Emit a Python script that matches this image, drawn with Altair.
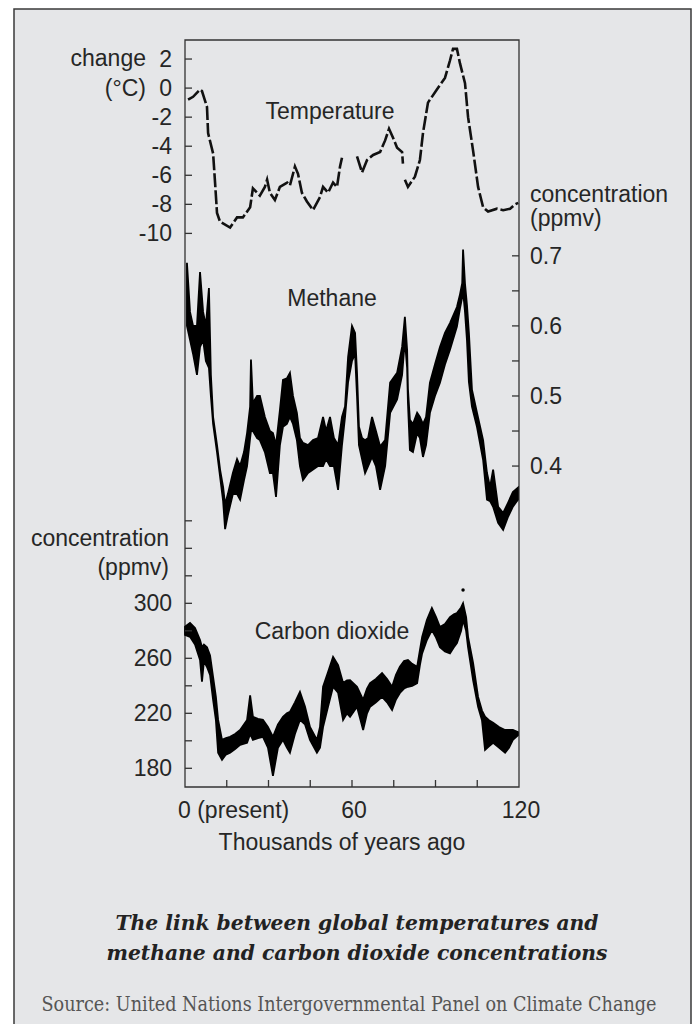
import altair as alt
import pandas as pd

# ---------------- data ----------------
# Temperature change (deg C), three dashed segments separated by gaps
temp_kyr_a = [1.1, 2.9, 5.4, 6.1, 7.9, 8.3, 10.1, 10.8, 11.5, 12.6, 16.2, 18.7, 20.8, 23.4, 24.4,
              26.9, 28.7, 29.5, 30.5, 32.3, 34.1, 36.7, 37.7, 39.5, 40.6, 42.0, 43.8, 46.0, 48.5,
              49.6, 51.4, 53.2, 54.6, 55.7, 56.4]
temp_val_a = [-0.8, -0.6, -0.1, -0.2, -1.3, -3.1, -4.5, -6.5, -8.6, -9.2, -9.6, -8.9, -8.9, -8.2, -6.9,
              -7.4, -6.8, -6.3, -7.2, -7.7, -6.8, -6.5, -6.7, -5.4, -5.9, -7.2, -7.8, -8.4, -7.5,
              -6.8, -7.2, -6.5, -6.8, -5.4, -4.8]
temp_kyr_b = [61.8, 63.6, 65.4, 67.6, 70.1, 71.9, 73.3, 74.7, 76.2, 78.0, 78.3]
temp_val_b = [-4.7, -5.8, -4.95, -4.6, -4.4, -3.6, -2.8, -3.4, -4.1, -4.4, -5.2]
temp_kyr_c = [79.0, 80.1, 82.6, 84.4, 85.5, 87.3, 90.5, 93.4, 95.2, 96.3, 97.7, 98.8, 100.6, 101.7,
              103.5, 105.3, 107.1, 108.9, 112.1, 114.3, 116.8, 118.6, 119.7]
temp_val_c = [-6.3, -6.8, -6.1, -4.95, -3.1, -1.0, -0.1, 0.7, 1.9, 2.7, 2.7, 1.7, 0.34, -2.0,
              -4.3, -6.8, -8.2, -8.5, -8.3, -8.4, -8.3, -8.0, -7.9]

# Methane concentration (ppmv): lower / upper edge of the black band
ch4_kyr = [0.7, 1.8, 2.9, 4.3, 5.4, 6.5, 7.5, 8.6, 9.3, 10.1, 11.5, 12.6, 13.7, 14.4, 15.4, 17.2,
           18.7, 19.8, 21.2, 22.3, 23.4, 23.7, 24.4, 25.9, 26.9, 28.7, 30.5, 31.6, 32.7, 34.1,
           35.2, 36.6, 37.7, 38.8, 40.2, 41.3, 42.4, 44.2, 46.0, 47.8, 49.6, 50.7, 52.1, 53.5,
           55.0, 56.4, 57.5, 58.6, 60.0, 61.1, 61.8, 62.5, 63.6, 64.7, 65.8, 67.2, 68.6, 70.1,
           71.9, 73.7, 76.2, 78.0, 79.0, 79.8, 80.1, 80.8, 81.9, 83.4, 84.4, 85.5, 86.6, 88.0,
           89.8, 91.6, 93.4, 95.2, 97.7, 98.8, 99.6, 99.9, 100.6, 101.3, 102.0, 103.1, 104.9,
           107.1, 108.5, 109.6, 110.7, 112.5, 114.3, 116.1, 117.8, 119.6]
ch4_lo = [0.60, 0.58, 0.56, 0.53, 0.57, 0.58, 0.55, 0.54, 0.50, 0.46, 0.42, 0.385, 0.35, 0.31, 0.33, 0.36,
          0.36, 0.352, 0.38, 0.40, 0.44, 0.45, 0.45, 0.44, 0.437, 0.42, 0.39, 0.39, 0.356, 0.43,
          0.456, 0.46, 0.47, 0.46, 0.437, 0.40, 0.38, 0.39, 0.395, 0.40, 0.40, 0.41, 0.40, 0.40,
          0.366, 0.43, 0.47, 0.52, 0.55, 0.56, 0.50, 0.43, 0.41, 0.39, 0.40, 0.413, 0.40, 0.366,
          0.40, 0.476, 0.495, 0.53, 0.58, 0.54, 0.49, 0.423, 0.42, 0.447, 0.44, 0.413, 0.43, 0.476,
          0.50, 0.519, 0.545, 0.566, 0.599, 0.625, 0.641, 0.65, 0.62, 0.58, 0.52, 0.485, 0.456,
          0.409, 0.352, 0.35, 0.342, 0.319, 0.309, 0.328, 0.342, 0.352]
ch4_hi = [0.69, 0.62, 0.60, 0.60, 0.677, 0.62, 0.60, 0.654, 0.53, 0.47, 0.43, 0.395, 0.37, 0.345, 0.36, 0.39,
          0.41, 0.40, 0.42, 0.447, 0.485, 0.552, 0.49, 0.50, 0.50, 0.47, 0.45, 0.447, 0.43, 0.48,
          0.523, 0.525, 0.533, 0.50, 0.476, 0.44, 0.433, 0.43, 0.437, 0.44, 0.47, 0.45, 0.47, 0.44,
          0.43, 0.47, 0.485, 0.556, 0.60, 0.59, 0.533, 0.456, 0.44, 0.437, 0.44, 0.47, 0.45, 0.428,
          0.437, 0.519, 0.533, 0.57, 0.613, 0.566, 0.51, 0.466, 0.46, 0.476, 0.47, 0.46, 0.47, 0.519,
          0.545, 0.57, 0.59, 0.604, 0.627, 0.645, 0.661, 0.709, 0.66, 0.63, 0.59, 0.509, 0.476,
          0.437, 0.39, 0.37, 0.395, 0.342, 0.333, 0.348, 0.363, 0.369]

# Carbon dioxide concentration (ppmv): lower / upper edge of the black band
co2_kyr = [0.0, 1.8, 3.6, 5.4, 6.1, 6.8, 7.9, 9.0, 10.1, 11.1, 11.9, 13.3, 14.7, 16.2, 18.0, 19.8,
           22.3, 23.4, 24.4, 26.2, 28.0, 29.8, 31.6, 33.4, 35.2, 36.6, 37.7, 39.5, 41.3, 43.1,
           44.9, 47.4, 48.5, 49.6, 51.4, 53.2, 55.0, 56.8, 58.2, 59.3, 61.8, 64.0, 65.4, 66.5,
           68.6, 70.8, 72.6, 74.4, 75.8, 77.2, 78.7, 80.1, 81.6, 83.4, 84.4, 85.2, 86.9, 88.7,
           90.2, 91.6, 93.4, 95.2, 96.6, 97.7, 99.2, 99.9, 101.0, 101.7, 103.5, 105.3, 106.7,
           107.8, 109.2, 110.7, 112.8, 115.0, 116.4, 117.8, 119.6]
co2_lo = [277, 275.6, 270, 258.8, 243, 258, 253.7, 248, 229.8, 215, 191.3, 186.1, 190, 191.3, 194, 197,
          198.5, 205, 200.7, 202, 202.9, 195, 174.6, 195, 200.7, 195, 191.3, 205, 215.2, 212,
          200.7, 191.3, 195, 210, 225, 239.3, 235, 215.2, 220, 217.5, 224.8, 207.9, 220, 224.8,
          228, 231.9, 228, 222.4, 230, 234.8, 238, 239.3, 240, 242, 255, 263.6, 273.3, 280.6,
          275, 268, 265, 263.6, 268, 271.1, 280, 287.9, 280, 268, 244.1, 224.8, 215,
          193.4, 196, 198.5, 195, 191.3, 195, 200.7, 204]
co2_hi = [283, 285.7, 282, 273.3, 268, 270, 268, 262, 246.4, 232, 215.2, 200.7, 202, 202.9, 205, 207.9,
          215.2, 233, 217.5, 216, 215.2, 210, 202.9, 212, 217.5, 220, 221, 228, 235.6, 225,
          210, 200.7, 210, 239.3, 250, 261, 255, 242, 244, 244.1, 239.3, 229.8, 238, 242,
          245, 249.3, 245, 239.3, 248, 253.8, 258, 258.8, 256, 253.8, 266, 275.6, 287.9, 296.6,
          290, 282.8, 285, 290, 292, 292.9, 297, 300, 290, 275.6, 256.7, 231.9, 222,
          217.5, 215, 213.2, 210, 207.9, 208, 207.9, 206.4]
co2_dot_kyr = [99.9]
co2_dot_val = [309.7]

# Axis ticks and labels
x_tick_vals = [15, 30, 45, 60, 75, 90, 105]
x_label_vals = [0, 60, 120]
x_label_text = ["0 (present)", "60", "120"]
temp_tick_vals = [2, 0, -2, -4, -6, -8, -10]
temp_label_text = ["2", "0", "-2", "-4", "-6", "-8", "-10"]
ch4_tick_vals = [0.4, 0.45, 0.5, 0.55, 0.6, 0.65, 0.7]
ch4_label_vals = [0.4, 0.5, 0.6, 0.7]
ch4_label_text = ["0.4", "0.5", "0.6", "0.7"]
co2_tick_vals = [180, 200, 220, 240, 260, 280, 300, 320, 340, 360]
co2_label_vals = [180, 220, 260, 300]
co2_label_text = ["180", "220", "260", "300"]

# ---------------- styling ----------------
W, H = 334, 747
INK = "#262626"
SANS = "Liberation Sans"
FS = 23
BG = "#e5e6e8"

temp_df = pd.concat([
    pd.DataFrame({"kyr": temp_kyr_a, "temp": temp_val_a, "seg": "a"}),
    pd.DataFrame({"kyr": temp_kyr_b, "temp": temp_val_b, "seg": "b"}),
    pd.DataFrame({"kyr": temp_kyr_c, "temp": temp_val_c, "seg": "c"}),
], ignore_index=True)
ch4_df = pd.DataFrame({"kyr": ch4_kyr, "lo": ch4_lo, "hi": ch4_hi})
co2_df = pd.DataFrame({"kyr": co2_kyr, "lo": co2_lo, "hi": co2_hi})
co2_dot_df = pd.DataFrame({"kyr": co2_dot_kyr, "lo": co2_dot_val})
xlab_df = pd.DataFrame({"kyr": x_label_vals, "lab": x_label_text})

x_scale = alt.Scale(domain=[0, 120], nice=False, zero=False)
X = alt.X("kyr:Q", scale=x_scale, axis=None)

temp_scale = alt.Scale(domain=[-48.1, 3.31], nice=False, zero=False)
ch4_scale = alt.Scale(domain=[-0.058, 1.008], nice=False, zero=False)
co2_scale = alt.Scale(domain=[166.4, 709.7], nice=False, zero=False)

dummy = alt.Data(values=[{}])


def label(text, x, y, align="left", size=FS, font=SANS, style="normal", weight="normal", color=INK):
    return alt.Chart(dummy).mark_text(
        text=text, align=align, baseline="alphabetic", font=font, fontSize=size,
        fontStyle=style, fontWeight=weight, color=color,
    ).encode(x=alt.value(x), y=alt.value(y))


def tick_labels(vals, texts, field, scale, x, align):
    df = pd.DataFrame({field: vals, "lab": texts})
    return alt.Chart(df).mark_text(
        align=align, baseline="alphabetic", dy=8, font=SANS, fontSize=FS, color=INK,
    ).encode(y=alt.Y(f"{field}:Q", scale=scale, axis=None), x=alt.value(x), text="lab:N")


def tick_rules(vals, field, scale, x0, x1):
    return alt.Chart(pd.DataFrame({field: vals})).mark_rule(
        color="#333333", strokeWidth=1.3).encode(
        y=alt.Y(f"{field}:Q", scale=scale, axis=None), x=alt.value(x0), x2=alt.value(x1))


# background panel and plot frame
panel = alt.Chart(dummy).mark_rect(fill=BG, stroke="#3a3a3a", strokeWidth=1.5).encode(
    x=alt.value(-171), x2=alt.value(506), y=alt.value(-31), y2=alt.value(1010))
frame = alt.Chart(dummy).mark_rect(fillOpacity=0, stroke="#333333", strokeWidth=1.3).encode(
    x=alt.value(0), x2=alt.value(W), y=alt.value(0), y2=alt.value(H))

# temperature group
temp_line = alt.Chart(temp_df).mark_line(
    color="#111111", strokeWidth=2.6, strokeDash=[14, 3]).encode(
    x=X, y=alt.Y("temp:Q", scale=temp_scale, axis=None),
    detail="seg:N", order="kyr:Q")
temp_group = alt.layer(
    temp_line,
    tick_rules(temp_tick_vals, "temp", temp_scale, 0, 7),
    tick_labels(temp_tick_vals, temp_label_text, "temp", temp_scale, -13, "right"),
)

# methane group
ch4_area = alt.Chart(ch4_df).mark_area(
    color="#000000", stroke="#000000", strokeWidth=1.8, opacity=1).encode(
    x=X, y=alt.Y("lo:Q", scale=ch4_scale, axis=None), y2="hi:Q")
ch4_group = alt.layer(
    ch4_area,
    tick_rules(ch4_tick_vals, "lo", ch4_scale, W, W - 7),
    tick_labels(ch4_label_vals, ch4_label_text, "lo", ch4_scale, W + 11, "left"),
)

# carbon dioxide group
co2_area = alt.Chart(co2_df).mark_area(
    color="#000000", stroke="#000000", strokeWidth=1.8, opacity=1).encode(
    x=X, y=alt.Y("lo:Q", scale=co2_scale, axis=None), y2="hi:Q")
co2_dot = alt.Chart(co2_dot_df).mark_point(
    filled=True, color="#000000", size=12, opacity=1).encode(
    x=X, y=alt.Y("lo:Q", scale=co2_scale, axis=None))
co2_group = alt.layer(
    co2_area, co2_dot,
    tick_rules(co2_tick_vals, "lo", co2_scale, 0, 7),
    tick_labels(co2_label_vals, co2_label_text, "lo", co2_scale, -13, "right"),
)

# x ticks and labels along the bottom
x_ticks = alt.Chart(pd.DataFrame({"kyr": x_tick_vals})).mark_rule(
    color="#333333", strokeWidth=1.3).encode(
    x=X, y=alt.value(H), y2=alt.value(H - 7))
x_lab_first = alt.Chart(xlab_df[xlab_df["kyr"] == 0]).mark_text(
    align="left", baseline="alphabetic", dx=-7, font=SANS, fontSize=FS, color=INK).encode(
    x=X, y=alt.value(H + 31), text="lab:N")
x_lab_rest = alt.Chart(xlab_df[xlab_df["kyr"] > 0]).mark_text(
    align="center", baseline="alphabetic", dx=2, font=SANS, fontSize=FS, color=INK).encode(
    x=X, y=alt.value(H + 31), text="lab:N")

texts = [
    label("change", -39, 26, align="right"),
    label("(°C)", -39, 56, align="right"),
    label("Temperature", 145, 79, align="center"),
    label("concentration", 345, 162),
    label("(ppmv)", 345, 186),
    label("Methane", 147, 266, align="center"),
    label("concentration", -16, 506, align="right"),
    label("(ppmv)", -16, 535, align="right"),
    label("Carbon dioxide", 147, 599, align="center"),
    label("Thousands of years ago", 157, 810, align="center"),
    label("The link between global temperatures and", 172, 890, align="center",
          size=20.3, font="DejaVu Serif", style="italic", weight="bold", color="#222222"),
    label("methane and carbon dioxide concentrations", 172, 920, align="center",
          size=20.3, font="DejaVu Serif", style="italic", weight="bold", color="#222222"),
    label("Source: United Nations Intergovernmental Panel on Climate Change", 164, 971,
          align="center", size=19.6, font="DejaVu Serif Condensed, DejaVu Serif", color="#555555"),
]

chart = alt.layer(
    panel, frame, temp_group, ch4_group, co2_group, x_ticks, x_lab_first, x_lab_rest, *texts
).resolve_scale(y="independent").properties(
    width=W, height=H,
    padding={"left": 177, "top": 32, "right": 173, "bottom": 237},
    autosize=alt.AutoSizeParams(type="none"),
    background="white",
).configure_view(stroke=None)

chart.save("out.html", embed_options={"renderer": "svg", "actions": False})
